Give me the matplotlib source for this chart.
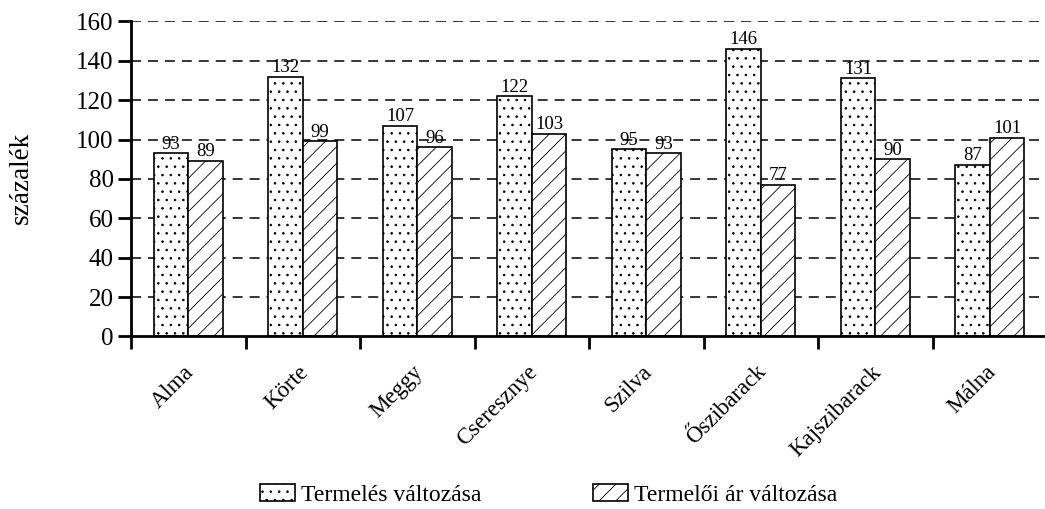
import matplotlib
matplotlib.use("Agg")
import matplotlib.pyplot as plt
import matplotlib.transforms as mtransforms
import numpy as np

categories = ["Alma", "Körte", "Meggy", "Cseresznye", "Szilva", "Őszibarack", "Kajszibarack", "Málna"]
termeles = [93, 132, 107, 122, 95, 146, 131, 87]
ar = [89, 99, 96, 103, 93, 77, 90, 101]
series_names = ["Termelés változása", "Termelői ár változása"]
y_ticks = [0, 20, 40, 60, 80, 100, 120, 140, 160]

plt.rcParams['font.family'] = ['Liberation Serif', 'DejaVu Serif']
plt.rcParams['hatch.linewidth'] = 0.6
plt.rcParams['lines.scale_dashes'] = False

fig = plt.figure(figsize=(10.45, 5.09), dpi=100)
ax = fig.add_axes([0.1254, 0.339, 0.8766, 0.619])

x = np.arange(len(categories)) + 0.5
w = 0.30
b1 = ax.bar(x - w/2, termeles, w, color='white', edgecolor='black', linewidth=1.2, hatch='..', zorder=3, label=series_names[0])
b2 = ax.bar(x + w/2, ar, w, color='white', edgecolor='black', linewidth=1.2, hatch='//', zorder=3, label=series_names[1])

for bars, vals in ((b1, termeles), (b2, ar)):
    for r, v in zip(bars, vals):
        ax.annotate(str(v), (r.get_x() + r.get_width()/2, v), xytext=(0, 0.5), textcoords='offset points',
                    ha='center', va='bottom', fontsize=13.5, zorder=4)

ax.set_xlim(0, len(categories))
ax.set_ylim(0, 160)
ax.set_yticks(y_ticks)
ax.tick_params(axis='y', labelsize=18, length=9.5, width=2, pad=3, direction='out')
ax.set_xticks(np.arange(len(categories) + 1))
ax.set_xticklabels([])
ax.tick_params(axis='x', which='major', length=9.5, width=2, direction='out')
ax.set_xticks(x, minor=True)
ax.set_xticklabels(categories, minor=True, rotation=45, ha='right', rotation_mode='anchor', fontsize=16.5)
ax.tick_params(axis='x', which='minor', length=0, pad=18)
offset = mtransforms.ScaledTranslation(-5/100, 0, fig.dpi_scale_trans)
for lab in ax.get_xticklabels(minor=True):
    lab.set_transform(lab.get_transform() + offset)

for y in y_ticks[1:]:
    ax.axhline(y, color='black', linewidth=1.1, linestyle=(0, (7.2, 5.0)), zorder=1)

for s in ('top', 'right'):
    ax.spines[s].set_visible(False)
ax.spines['left'].set_linewidth(2)
ax.spines['bottom'].set_linewidth(2)
ax.spines['bottom'].set_zorder(5)

fig.text(21/1045, 1 - 178/509, "százalék", rotation=90, ha='center', va='center', fontsize=19.5)

fig.legend(handles=[b1, b2], labels=series_names, loc='center', bbox_to_anchor=(0.525, 0.028), ncol=2,
           frameon=False, fontsize=17, handlelength=1.5, handleheight=0.76, columnspacing=4.7, handletextpad=0.25)

fig.savefig("out.png", dpi=100)
